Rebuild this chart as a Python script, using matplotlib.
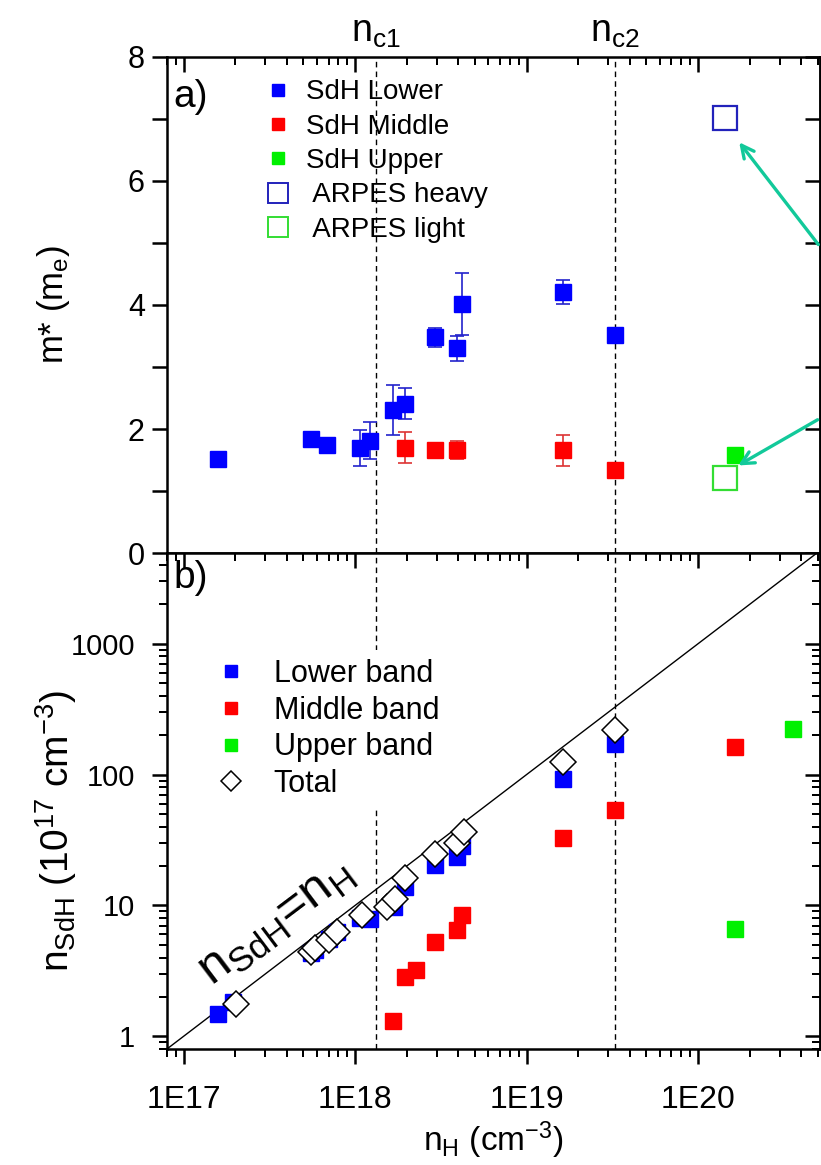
import matplotlib
matplotlib.use("Agg")
import matplotlib.pyplot as plt
from matplotlib.lines import Line2D
from matplotlib.ticker import FixedLocator, NullFormatter, LogLocator, MultipleLocator

plt.rcParams['font.family'] = ['Liberation Sans', 'DejaVu Sans']
plt.rcParams['mathtext.fontset'] = 'custom'
plt.rcParams['mathtext.rm'] = 'Liberation Sans'
plt.rcParams['mathtext.it'] = 'Liberation Sans'
plt.rcParams['mathtext.default'] = 'regular'

# ---- panel a: effective masses ----
lower_nH = [1.59e17, 5.53e17, 6.86e17, 1.07e18, 1.23e18, 1.66e18, 1.96e18,
            2.94e18, 3.93e18, 4.2e18, 1.63e19, 3.26e19]
lower_m = [1.51, 1.84, 1.74, 1.70, 1.81, 2.31, 2.41, 3.48, 3.30, 4.01, 4.21, 3.51]
lower_err = [0.0, 0.03, 0.03, 0.29, 0.30, 0.40, 0.25, 0.15, 0.20, 0.50, 0.20, 0.05]

middle_nH = [1.96e18, 2.94e18, 3.93e18, 1.63e19, 3.26e19]
middle_m = [1.70, 1.66, 1.66, 1.66, 1.34]
middle_err = [0.25, 0.05, 0.15, 0.25, 0.03]

upper_nH = [1.65e20]
upper_m = [1.58]

arpes_nH = [1.44e20]
arpes_heavy = [7.01]
arpes_light = [1.21]

# ---- panel b: carrier densities (1e17 cm^-3) ----
lowband_nH = [1.59e17, 1.95e17, 5.5e17, 5.8e17, 7.0e17, 7.8e17, 1.07e18, 1.23e18,
              1.68e18, 1.96e18, 2.94e18, 3.93e18, 4.2e18, 1.63e19, 3.26e19]
lowband_n = [1.47, 1.82, 4.3, 4.6, 5.5, 6.3, 8.0, 7.9, 9.7, 13.9, 20.3, 23.5, 28.4, 92, 170]

midband_nH = [1.66e18, 1.96e18, 2.26e18, 2.94e18, 3.93e18, 4.2e18, 1.63e19, 3.26e19, 1.65e20]
midband_n = [1.31, 2.84, 3.2, 5.26, 6.46, 8.5, 32.5, 53.5, 163]

upband_nH = [1.65e20, 3.57e20]
upband_n = [6.66, 225]

total_nH = [2.03e17, 5.5e17, 5.8e17, 7.0e17, 7.8e17, 1.1e18, 1.54e18, 1.71e18,
            1.96e18, 2.94e18, 3.93e18, 4.3e18, 1.63e19, 3.26e19]
total_n = [1.78, 4.4, 4.7, 5.45, 6.3, 8.4, 9.8, 11.3, 16.1, 24.9, 30.0, 36.5, 125, 221]

# critical densities
n_c = [1.33e18, 3.29e19]
n_c_labels = [r'n$_{c1}$', r'n$_{c2}$']

x_ticks = [1e17, 1e18, 1e19, 1e20]
x_ticklabels = ['1E17', '1E18', '1E19', '1E20']
y_ticks_b = [1, 10, 100, 1000]
y_ticklabels_b = ['1', '10', '100', '1000']

XLIM = (8.0e16, 5.15e20)

BLUE = '#0000ff'
RED = '#ff0000'
GREEN = '#00f000'
TEAL = '#12c99a'

fig = plt.figure(figsize=(8.21, 11.65), dpi=100)
ax1 = fig.add_axes([0.2034, 0.5253, 0.7954, 0.4258])
ax2 = fig.add_axes([0.2034, 0.0996, 0.7954, 0.4258])

FSY = 22
FSX = 23
SW = 1.8

for ax in (ax1, ax2):
    ax.set_xscale('log')
    ax.set_xlim(*XLIM)
    for s in ax.spines.values():
        s.set_linewidth(SW)
    ax.xaxis.set_major_locator(FixedLocator(x_ticks))
    ax.xaxis.set_minor_locator(LogLocator(base=10, subs=range(2, 10), numticks=20))
    ax.xaxis.set_minor_formatter(NullFormatter())
    ax.tick_params(axis='both', which='major', length=11, width=SW)
    ax.tick_params(axis='both', which='minor', length=6, width=SW * 0.8)
    ax.tick_params(axis='x', labelsize=FSX, pad=15)
    for xc in n_c:
        ax.axvline(xc, color='black', lw=1.0, ls=(0, (4, 3)), zorder=1)

ax1.tick_params(axis='y', labelsize=FSY, pad=5)
ax2.tick_params(axis='y', labelsize=21, pad=12)

# ----- panel a -----
ax1.set_ylim(0, 8)
ax1.yaxis.set_major_locator(MultipleLocator(2))
ax1.yaxis.set_minor_locator(MultipleLocator(1))
ax1.tick_params(axis='x', which='both', labelbottom=False, bottom=False,
                top=True, direction='in')
ax1.tick_params(axis='y', which='both', direction='out', right=False)
ax1.tick_params(axis='y', which='minor', length=11, width=SW)
ax1r = ax1.secondary_yaxis('right')
ax1r.yaxis.set_major_locator(MultipleLocator(2))
ax1r.yaxis.set_minor_locator(MultipleLocator(1))
ax1r.tick_params(which='both', direction='in', length=11, width=SW, labelright=False)
ax1r.spines['right'].set_linewidth(SW)

ax1.errorbar(lower_nH, lower_m, yerr=lower_err, fmt='s', color=BLUE, ms=12,
             ecolor='#2222cc', elinewidth=1.2, capsize=5, capthick=1.2, zorder=3)
ax1.errorbar(middle_nH, middle_m, yerr=middle_err, fmt='s', color=RED, ms=12,
             ecolor='#dd3333', elinewidth=1.2, capsize=5, capthick=1.2, zorder=3)
ax1.plot(upper_nH, upper_m, 's', color=GREEN, ms=12, zorder=3)
ax1.plot(arpes_nH, arpes_heavy, 's', mfc='none', mec='#2222bb', mew=1.6, ms=17, zorder=3)
ax1.plot(arpes_nH, arpes_light, 's', mfc='none', mec='#33dd33', mew=1.6, ms=17, zorder=3)

legend_a = [
    Line2D([], [], ls='none', marker='s', color=BLUE, ms=9),
    Line2D([], [], ls='none', marker='s', color=RED, ms=9),
    Line2D([], [], ls='none', marker='s', color=GREEN, ms=9),
    Line2D([], [], ls='none', marker='s', mfc='none', mec='#2222bb', mew=1.4, ms=14),
    Line2D([], [], ls='none', marker='s', mfc='none', mec='#33dd33', mew=1.4, ms=14),
]
labels_a = ['SdH Lower', 'SdH Middle', 'SdH Upper', ' ARPES heavy', ' ARPES light']
ax1.legend(legend_a, labels_a, loc='upper left', bbox_to_anchor=(0.153, 0.955),
           frameon=False, fontsize=20, handlelength=0.8, handletextpad=0.6,
           labelspacing=0.3, borderpad=0.0, borderaxespad=0.0)

ax1.set_ylabel(r'm* (m$_e$)', fontsize=25, labelpad=12)
ax1.yaxis.set_label_coords(-0.145, 0.5)
ax1.text(0.01, 0.955, 'a)', transform=ax1.transAxes, fontsize=28, va='top', ha='left')

for xc, lab in zip(n_c, n_c_labels):
    ax1.text(xc, 8.12, lab, fontsize=27, ha='center', va='bottom')

# arrows pointing to the ARPES points
ax1.annotate('', xy=(1.70e20, 6.66), xytext=(1.0, 0.6175),
             textcoords='axes fraction',
             arrowprops=dict(arrowstyle='->,head_length=0.9,head_width=0.45',
                             color=TEAL, lw=2.4), annotation_clip=False)
ax1.annotate('', xy=(1.66e20, 1.39), xytext=(1.0, 0.2715),
             textcoords='axes fraction',
             arrowprops=dict(arrowstyle='->,head_length=0.9,head_width=0.45',
                             color=TEAL, lw=2.4), annotation_clip=False)

# ----- panel b -----
ax2.set_yscale('log')
ax2.set_ylim(0.8, 4950)
ax2.yaxis.set_major_locator(FixedLocator(y_ticks_b))
ax2.yaxis.set_minor_locator(LogLocator(base=10, subs=range(2, 10), numticks=20))
ax2.yaxis.set_minor_formatter(NullFormatter())
ax2.set_yticklabels(y_ticklabels_b)
ax2.tick_params(axis='y', which='both', direction='out', right=False)
ax2.set_xticks(x_ticks)
ax2.set_xticklabels(x_ticklabels)
ax2r = ax2.secondary_yaxis('right')
ax2r.set_yscale('log')
ax2r.yaxis.set_major_locator(FixedLocator(y_ticks_b))
ax2r.yaxis.set_minor_locator(LogLocator(base=10, subs=range(2, 10), numticks=20))
ax2r.tick_params(which='major', direction='in', length=11, width=SW, labelright=False)
ax2r.tick_params(which='minor', direction='in', length=6, width=SW * 0.8, labelright=False)
ax2r.yaxis.set_minor_formatter(NullFormatter())
ax2r.spines['right'].set_linewidth(SW)

# bottom ticks point outward, top ticks point down into the panel
ax2.tick_params(axis='x', which='both', direction='out', top=True, bottom=True)
for t in ax2.xaxis.get_major_ticks() + ax2.xaxis.get_minor_ticks():
    t.tick2line.set_marker(3)

ax2.plot(XLIM, [XLIM[0] / 1e17, XLIM[1] / 1e17], color='black', lw=1.0, zorder=2)

ax2.plot(lowband_nH, lowband_n, 's', color=BLUE, ms=12, zorder=3)
ax2.plot(midband_nH, midband_n, 's', color=RED, ms=12, zorder=3)
ax2.plot(upband_nH, upband_n, 's', color=GREEN, ms=12, zorder=3)
ax2.plot(total_nH, total_n, 'D', mfc='white', mec='black', mew=1.1, ms=13, zorder=4)

legend_b = [
    Line2D([], [], ls='none', marker='s', color=BLUE, ms=9),
    Line2D([], [], ls='none', marker='s', color=RED, ms=9),
    Line2D([], [], ls='none', marker='s', color=GREEN, ms=9),
    Line2D([], [], ls='none', marker='D', mfc='white', mec='black', mew=1.1, ms=10),
]
labels_b = ['Lower band', 'Middle band', 'Upper band', 'Total']
ax2.legend(legend_b, labels_b, loc='upper left', bbox_to_anchor=(0.065, 0.805),
           frameon=True, facecolor='white', edgecolor='none', framealpha=1.0,
           fancybox=False, fontsize=22, handlelength=0.8, handletextpad=1.0,
           labelspacing=0.22, borderpad=0.3, borderaxespad=0.0)

ax2.text(0.01, 0.985, 'b)', transform=ax2.transAxes, fontsize=28, va='top', ha='left')
ax2.text(3.43e17, 7.4, r'n$_{SdH}$=n$_H$', fontsize=36, rotation=37.0,
         ha='center', va='center', rotation_mode='anchor')

ax2.set_ylabel(r'n$_{SdH}$ (10$^{17}$ cm$^{-3}$)', fontsize=28, labelpad=10)
ax2.yaxis.set_label_coords(-0.135, 0.44)
ax2.set_xlabel(r'n$_H$ (cm$^{-3}$)', fontsize=24, labelpad=3)

fig.savefig('out.png', dpi=100)
